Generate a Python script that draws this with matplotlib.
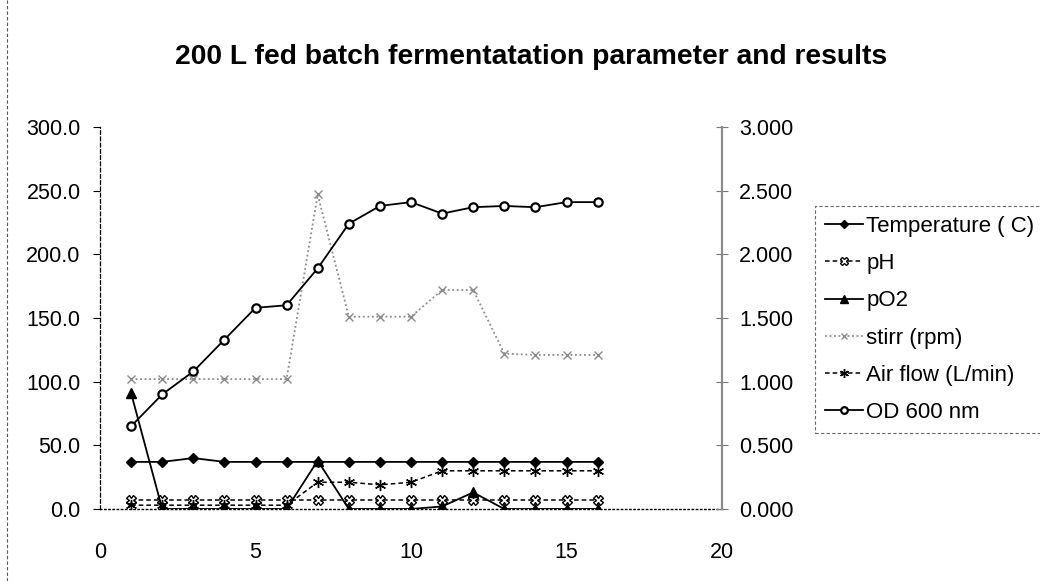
import matplotlib
matplotlib.use("Agg")
import matplotlib.pyplot as plt
from matplotlib.lines import Line2D
from matplotlib.ticker import FormatStrFormatter, MultipleLocator

plt.rcParams['font.family'] = ['Liberation Sans', 'DejaVu Sans']

# values
hours = [1, 2, 3, 4, 5, 6, 7, 8, 9, 10, 11, 12, 13, 14, 15, 16]
temperature = [37, 37, 40, 37, 37, 37, 37, 37, 37, 37, 37, 37, 37, 37, 37, 37]
ph = [6.8, 6.8, 6.8, 6.8, 6.8, 6.8, 6.8, 6.8, 6.8, 6.8, 6.8, 6.8, 6.8, 6.8, 6.8, 6.8]
po2 = [91, 0, 0, 0, 0, 0, 38, 0, 0, 0, 2, 13, 0, 0, 0, 0]
stirr = [102, 102, 102, 102, 102, 102, 247, 151, 151, 151, 172, 172, 122, 121, 121, 121]
air_flow = [3, 3, 3, 3, 3, 3, 21, 21, 19, 21, 30, 30, 30, 30, 30, 30]
od600 = [0.65, 0.90, 1.08, 1.33, 1.58, 1.60, 1.89, 2.24, 2.38, 2.41,
         2.32, 2.37, 2.38, 2.37, 2.41, 2.41]

labels = ['Temperature ( C)', 'pH', 'pO2', 'stirr (rpm)', 'Air flow (L/min)', 'OD 600 nm']

W, H = 1040, 581
fig = plt.figure(figsize=(W / 100, H / 100), dpi=100)
ax = fig.add_axes([100 / W, 1 - 509 / H, (722 - 100) / W, (509 - 127) / H])
ax2 = ax.twinx()

l1, = ax.plot(hours, temperature, color='black', lw=1.3, marker='D', ms=5, label=labels[0])
l2, = ax.plot(hours, ph, color='black', lw=1.1, ls=(0, (3, 2)), marker='X', ms=7,
              mfc='white', mec='black', label=labels[1])
l3, = ax.plot(hours, po2, color='black', lw=1.3, marker='^', ms=7, label=labels[2])
l4, = ax.plot(hours, stirr, color='#8a8a8a', lw=1.3, ls=(0, (1, 1.5)), marker='x', ms=6,
              mec='#8a8a8a', label=labels[3])
l5, = ax.plot(hours, air_flow, color='black', lw=1.1, ls=(0, (3, 2)), marker=(6, 2, 0), ms=8,
              label=labels[4])
l6, = ax2.plot(hours, od600, color='black', lw=1.3, marker='o', ms=6, mfc='white',
               mew=1.6, label=labels[5])

ax.set_xlim(0, 20)
ax.set_ylim(0, 300)
ax2.set_ylim(0, 3)
ax.xaxis.set_major_locator(MultipleLocator(5))
ax.yaxis.set_major_locator(MultipleLocator(50))
ax2.yaxis.set_major_locator(MultipleLocator(0.5))
ax.yaxis.set_major_formatter(FormatStrFormatter('%.1f'))
ax2.yaxis.set_major_formatter(FormatStrFormatter('%.3f'))

for a in (ax, ax2):
    a.spines['top'].set_visible(False)
    a.patch.set_visible(False)
ax2.spines['left'].set_visible(False)
ax2.spines['bottom'].set_visible(False)
ax.spines['right'].set_visible(False)
ax.spines['left'].set_linestyle((0, (3, 2)))
ax.spines['left'].set_linewidth(0.9)
ax.spines['bottom'].set_linestyle((0, (1, 2)))
ax.spines['bottom'].set_linewidth(1.0)
ax2.spines['right'].set_color('#8c8c8c')
ax2.spines['right'].set_linewidth(1.6)

ax.tick_params(axis='x', length=0, pad=24, labelsize=15.5)
ax.tick_params(axis='y', direction='out', length=5, width=0.8, pad=9, labelsize=15.5)
ax2.tick_params(axis='y', direction='inout', length=9, width=0.8, color='#777777',
                pad=8, labelsize=15.5)

fig.text(531 / W, 1 - 57 / H, '200 L fed batch fermentatation parameter and results',
         ha='center', va='center', fontsize=20.3, fontweight='bold')

leg = fig.legend(handles=[l1, l2, l3, l4, l5, l6], loc='upper left',
                 bbox_to_anchor=(815 / W, 1 - 206 / H), fontsize=16, frameon=True,
                 fancybox=False, handlelength=1.7, handletextpad=0.15,
                 labelspacing=0.73, borderpad=0.45, borderaxespad=0, markerscale=0.8)
leg.get_frame().set_edgecolor('#444444')
leg.get_frame().set_linestyle((0, (3, 2)))
leg.get_frame().set_linewidth(0.8)

# dashed border of the chart area on the left
fig.add_artist(Line2D([7 / W, 7 / W], [0, 1], color='#555555', lw=0.8, ls=(0, (3, 2))))

fig.savefig('out.png', dpi=100)
